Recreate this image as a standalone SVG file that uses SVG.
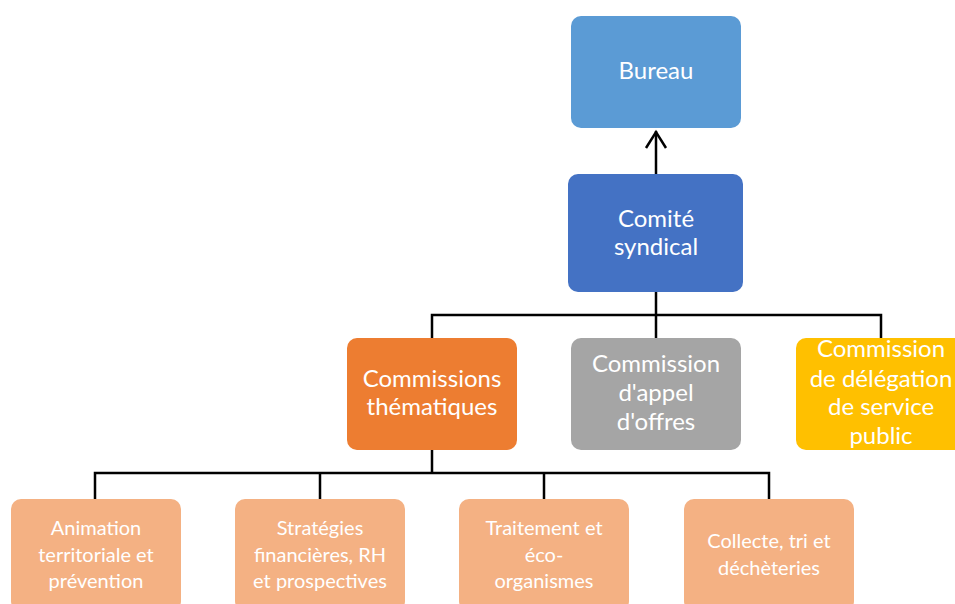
<svg xmlns="http://www.w3.org/2000/svg" width="955" height="604" viewBox="0 0 955 604">
<defs>
<style>
.box{stroke:none}
.t{font-family:Lato,"Liberation Sans",sans-serif;fill:#ffffff;text-anchor:middle}
.big{font-size:24px}
.small{font-size:20px}
.conn{fill:none;stroke:#000000;stroke-width:2.5}
</style>
</defs>
<rect width="955" height="604" fill="#ffffff"/>
<g id="connectors">
<path class="conn" d="M656 174 V131"/>
<path class="conn" d="M646 148 L656 132 L666 148"/>
<path class="conn" d="M656 292 V315 M432 339 V315 H881 V339 M656 315 V339"/>
<path class="conn" d="M432 450 V473 M95 500 V473 H769 V500 M320 473 V500 M544 473 V500"/>
</g>
<g id="bureau">
<rect class="box" x="571" y="16" width="170" height="112" rx="10" fill="#5B9BD5"/>
<text class="t big" x="656" y="79">Bureau</text>
</g>
<g id="comite">
<rect class="box" x="568" y="174" width="175" height="118" rx="10" fill="#4472C4"/>
<text class="t big" x="656" y="227">Comité</text>
<text class="t big" x="656" y="255">syndical</text>
</g>
<g id="commissions-thematiques">
<rect class="box" x="347" y="338" width="170" height="112" rx="10" fill="#ED7D31"/>
<text class="t big" x="432" y="387">Commissions</text>
<text class="t big" x="432" y="415">thématiques</text>
</g>
<g id="commission-appel">
<rect class="box" x="571" y="338" width="170" height="112" rx="10" fill="#A5A5A5"/>
<text class="t big" x="656" y="372">Commission</text>
<text class="t big" x="656" y="401">d'appel</text>
<text class="t big" x="656" y="430">d'offres</text>
</g>
<g id="commission-dsp">
<rect class="box" x="796" y="338" width="170" height="112" rx="10" fill="#FFC000"/>
<text class="t big" x="881" y="357">Commission</text>
<text class="t big" x="881" y="387">de délégation</text>
<text class="t big" x="881" y="415">de service</text>
<text class="t big" x="881" y="444">public</text>
</g>
<g id="animation">
<rect class="box" x="11" y="499" width="170" height="112" rx="10" fill="#F4B183"/>
<text class="t small" x="96" y="535">Animation</text>
<text class="t small" x="96" y="561.5">territoriale et</text>
<text class="t small" x="96" y="588">prévention</text>
</g>
<g id="strategies">
<rect class="box" x="235" y="499" width="170" height="112" rx="10" fill="#F4B183"/>
<text class="t small" x="320" y="535">Stratégies</text>
<text class="t small" x="320" y="561.5">financières, RH</text>
<text class="t small" x="320" y="588">et prospectives</text>
</g>
<g id="traitement">
<rect class="box" x="459" y="499" width="170" height="112" rx="10" fill="#F4B183"/>
<text class="t small" x="544" y="535">Traitement et</text>
<text class="t small" x="544" y="561.5">éco-</text>
<text class="t small" x="544" y="588">organismes</text>
</g>
<g id="collecte">
<rect class="box" x="684" y="499" width="170" height="112" rx="10" fill="#F4B183"/>
<text class="t small" x="769" y="548">Collecte, tri et</text>
<text class="t small" x="769" y="575">déchèteries</text>
</g>
</svg>
